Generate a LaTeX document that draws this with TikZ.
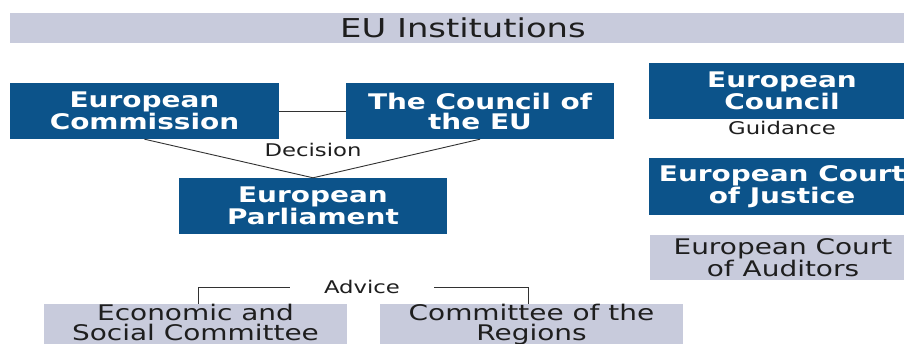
\documentclass[tikz,border=0pt]{standalone}
\usepackage{fontspec}
\setmainfont{DejaVu Sans}[FakeStretch=1.3]
\definecolor{darkbox}{RGB}{12,83,138}
\definecolor{lightbox}{RGB}{200,203,220}
\definecolor{linecol}{RGB}{50,50,50}
\definecolor{txtcol}{RGB}{30,30,30}
\tikzset{
  darkinst/.style={fill=darkbox, text=white, font=\fontsize{21.5}{20}\selectfont\bfseries,
    align=center, inner sep=0pt, minimum height=56pt},
  lightinst/.style={fill=lightbox, text=txtcol, font=\fontsize{21.5}{20}\selectfont,
    align=center, inner sep=0pt},
  lbl/.style={text=txtcol, font=\fontsize{17.5}{19}\selectfont, inner sep=0pt},
  conn/.style={draw=linecol, line width=0.9pt}
}
\begin{document}
\begin{tikzpicture}[x=1pt,y=-1pt]
\useasboundingbox (0,0) rectangle (904,344);
\clip (0,0) rectangle (904,344);
\fill[white] (0,0) rectangle (904,344);
% title
\node[lightinst, minimum width=906pt, minimum height=30pt, font=\fontsize{26}{28}\selectfont] (title) at (463,28) {EU Institutions};
% main boxes
\node[darkinst, minimum width=269pt] (com) at (144.5,111) {European\\Commission};
\node[darkinst, minimum width=268pt] (cou) at (480,111) {The Council of\\the EU};
\node[darkinst, minimum width=268pt] (parl) at (313,206) {European\\Parliament};
\node[darkinst, minimum width=266pt] (euco) at (782,91) {European\\Council};
\node[darkinst, minimum width=266pt, minimum height=57pt] (ecj) at (782,186.5) {European Court\\of Justice};
\node[lightinst, minimum width=266pt, minimum height=45pt] (eca) at (783,257.5) {European Court\\of Auditors};
\fill[lightbox] (44,330) rectangle (347,344);
\fill[lightbox] (380,330) rectangle (683,344);
\node[lightinst, minimum width=303pt, minimum height=36pt, anchor=north] (esc) at (195.5,304) {Economic and\\Social Committee};
\node[lightinst, minimum width=303pt, minimum height=36pt, anchor=north] (cor) at (531.5,304) {Committee of the\\Regions};
% labels
\node[lbl] (dec) at (313,150) {Decision};
\node[lbl] (gui) at (782,128) {Guidance};
\node[lbl, inner xsep=34pt] (adv) at (362,287) {Advice};
% connectors
\draw[conn] (com.east) -- (cou.west);
\draw[conn] (com.south) -- (parl.north);
\draw[conn] (cou.south) -- (parl.north);
\draw[conn] ([xshift=3pt]esc.north) |- (adv.west);
\draw[conn] ([xshift=-3pt]cor.north) |- (adv.east);
\end{tikzpicture}
\end{document}
